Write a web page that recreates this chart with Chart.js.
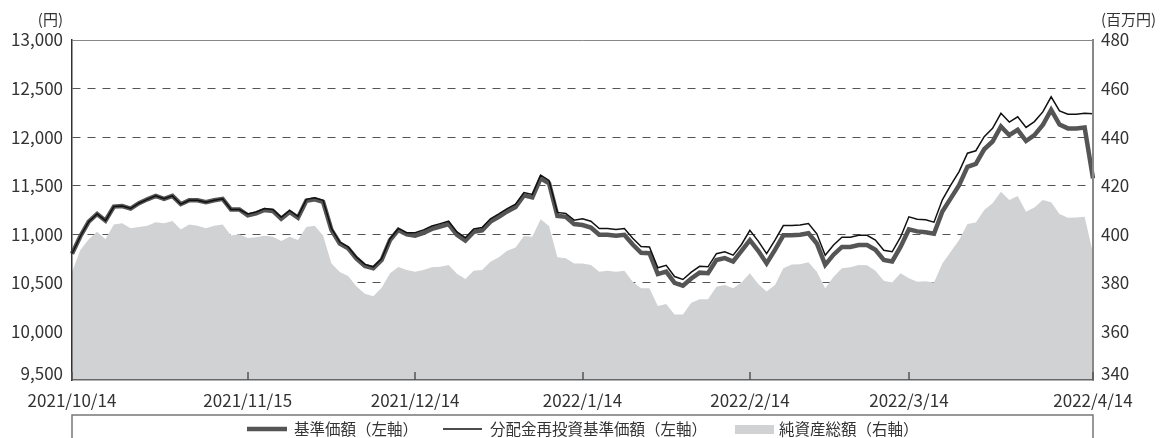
<!DOCTYPE html>
<html lang="ja">
<head>
<meta charset="UTF-8">
<title>基準価額・純資産総額の推移</title>
<script src="https://cdn.jsdelivr.net/npm/chart.js@4"></script>
<style>
  body { margin: 0; background: #fff; }
  #wrap { position: relative; width: 1164px; height: 438px; }
</style>
</head>
<body>
<div id="wrap"><canvas id="myChart"></canvas></div>
<script>
  // 東京の営業日（2021/10/14 〜 2022/4/14）
  const holidays = ['2021/11/3', '2021/11/23', '2021/12/31', '2022/1/3', '2022/1/10', '2022/2/11', '2022/2/23', '2022/3/21'];
  const tickLabels = ['2021/10/14', '2021/11/15', '2021/12/14', '2022/1/14', '2022/2/14', '2022/3/14', '2022/4/14'];

  const dates = [];
  for (let d = new Date(2021, 9, 14); d <= new Date(2022, 3, 14); d.setDate(d.getDate() + 1)) {
    const s = d.getFullYear() + '/' + (d.getMonth() + 1) + '/' + d.getDate();
    if (d.getDay() === 0 || d.getDay() === 6 || holidays.includes(s)) continue;
    dates.push(s);
  }

  // 基準価額（円）
  const nav = [
    10800, 10980, 11130, 11210, 11140, 11285, 11290, 11265, 11320, 11360,
    11395, 11365, 11395, 11310, 11350, 11350, 11330, 11350, 11365, 11255,
    11255, 11195, 11215, 11250, 11240, 11160, 11230, 11170, 11345, 11360,
    11335, 11045, 10905, 10855, 10750, 10675, 10650, 10735, 10940, 11045,
    11000, 10985, 11015, 11055, 11080, 11105, 10995, 10935, 11025, 11040,
    11130, 11180, 11235, 11280, 11400, 11380, 11575, 11525, 11190, 11180,
    11105, 11095, 11070, 10995, 10995, 10985, 10995, 10895, 10810, 10805,
    10590, 10615, 10500, 10470, 10545, 10605, 10600, 10735, 10755, 10720,
    10830, 10940, 10830, 10700, 10840, 10990, 10990, 10995, 11010, 10905,
    10685, 10790, 10870, 10870, 10890, 10890, 10840, 10735, 10720, 10870,
    11050, 11030, 11020, 11005, 11235, 11370, 11505, 11695, 11725, 11875,
    11955, 12110, 12020, 12075, 11960, 12020, 12125, 12280, 12130, 12090,
    12090, 12100, 11575
  ];

  // 分配金再投資基準価額（円）
  const navReinvested = [
    10800, 10980, 11130, 11210, 11140, 11285, 11290, 11265, 11320, 11360,
    11395, 11365, 11395, 11310, 11350, 11350, 11330, 11350, 11365, 11255,
    11255, 11210, 11230, 11265, 11255, 11175, 11245, 11185, 11360, 11375,
    11350, 11060, 10920, 10870, 10765, 10690, 10665, 10750, 10955, 11060,
    11015, 11015, 11045, 11085, 11110, 11135, 11025, 10965, 11055, 11070,
    11160, 11210, 11265, 11310, 11430, 11410, 11610, 11555, 11225, 11215,
    11145, 11160, 11135, 11060, 11060, 11050, 11060, 10960, 10875, 10870,
    10655, 10680, 10565, 10535, 10610, 10670, 10665, 10800, 10820, 10785,
    10895, 11040, 10930, 10800, 10940, 11090, 11090, 11095, 11110, 11005,
    10785, 10890, 10970, 10970, 10990, 10990, 10940, 10835, 10820, 10970,
    11180, 11155, 11150, 11125, 11355, 11505, 11645, 11835, 11860, 12005,
    12090, 12245, 12155, 12210, 12100, 12160, 12260, 12415, 12270, 12235,
    12235, 12245, 12240
  ];

  // 純資産総額（百万円）
  const netAssets = [
    384.5, 393.5, 398, 401, 398, 404, 404.5, 402.5, 403, 403.5,
    405, 404.5, 405.5, 402, 404, 403.5, 402.5, 403.5, 404, 399.5,
    400, 398.5, 398.8, 399.4, 399, 397.2, 399, 397.6, 403, 403.5,
    399.5, 388, 384.5, 382.8, 378.5, 375.5, 374.5, 378, 384, 386.5,
    385.3, 384.6, 385.3, 386.4, 386.6, 387.4, 383.7, 381.6, 385, 385.3,
    388.7, 390.5, 393.2, 394.6, 399.3, 399, 406.2, 403.4, 390.5, 390.1,
    388, 388, 387.4, 384.6, 385, 384.6, 385, 380.5, 377.8, 377.8,
    370.5, 371.3, 367, 367, 371.8, 373.2, 373.2, 378.4, 379.1, 377.8,
    380.1, 384, 379.5, 376.4, 379.1, 386, 387.6, 387.7, 388.5, 384.6,
    377.8, 382.5, 386, 386.4, 387.4, 387.2, 385, 380.9, 380.1, 384,
    381.9, 380.5, 380.7, 380.1, 388, 392.8, 397.6, 404.2, 404.9, 410,
    412.8, 417.5, 414.1, 415.8, 409.3, 411, 414.1, 413.2, 408.4, 406.8,
    406.9, 407.2, 392.2
  ];

  const FONT = "'Noto Sans CJK JP', 'Noto Sans', sans-serif";
  Chart.defaults.font.family = FONT;
  Chart.defaults.color = '#333';

  const navColor = '#555555';
  const areaColor = '#d1d2d4';

  // 単位・目盛り線・凡例を描くプラグイン
  const decor = {
    id: 'decor',
    afterDraw(chart) {
      const ctx = chart.ctx;
      const area = chart.chartArea;
      const x = chart.scales.x;
      const yL = chart.scales.y;
      const yR = chart.scales.y1;
      ctx.save();

      // x軸の内向き目盛り
      ctx.strokeStyle = '#555';
      ctx.lineWidth = 1.5;
      tickLabels.forEach(lbl => {
        const px = Math.round(x.getPixelForValue(dates.indexOf(lbl)));
        ctx.beginPath();
        ctx.moveTo(px, area.bottom);
        ctx.lineTo(px, area.bottom - 8);
        ctx.stroke();
      });

      // 最下段の目盛りラベルは少し上にずらす
      ctx.fillStyle = '#333';
      ctx.font = '17px ' + FONT;
      ctx.textBaseline = 'middle';
      ctx.textAlign = 'right';
      ctx.fillText(yL.min.toLocaleString('en-US'), area.left - 9, yL.getPixelForValue(yL.min) - 6);
      ctx.textAlign = 'left';
      ctx.fillText(String(yR.min), area.right + 8, yR.getPixelForValue(yR.min) - 6);

      // 単位
      ctx.font = '15px ' + FONT;
      ctx.textAlign = 'right';
      ctx.fillText('(円)', 63, 19);
      ctx.textAlign = 'left';
      ctx.fillText('(百万円)', 1101, 19);

      // 凡例
      ctx.strokeStyle = '#777';
      ctx.lineWidth = 1.5;
      ctx.strokeRect(area.left, 415, area.right - area.left, 40);
      const ly = 429;
      ctx.font = '15.5px ' + FONT;
      ctx.textAlign = 'left';

      ctx.strokeStyle = navColor;
      ctx.lineWidth = 4.5;
      ctx.beginPath(); ctx.moveTo(247, ly); ctx.lineTo(287, ly); ctx.stroke();
      ctx.fillText('基準価額（左軸）', 294, ly);

      ctx.strokeStyle = '#111';
      ctx.lineWidth = 1.5;
      ctx.beginPath(); ctx.moveTo(443, ly); ctx.lineTo(482, ly); ctx.stroke();
      ctx.fillText('分配金再投資基準価額（左軸）', 490, ly);

      ctx.fillStyle = areaColor;
      ctx.fillRect(735, ly - 4, 39, 9);
      ctx.fillStyle = '#333';
      ctx.fillText('純資産総額（右軸）', 779, ly);

      ctx.restore();
    }
  };

  const data = {
    labels: dates,
    datasets: [
      {
        label: '分配金再投資基準価額（左軸）',
        data: navReinvested,
        yAxisID: 'y',
        borderColor: '#111',
        borderWidth: 1.5,
        pointRadius: 0,
        tension: 0,
        order: 0
      },
      {
        label: '基準価額（左軸）',
        data: nav,
        yAxisID: 'y',
        borderColor: navColor,
        borderWidth: 4.5,
        pointRadius: 0,
        tension: 0,
        order: 1
      },
      {
        label: '純資産総額（右軸）',
        data: netAssets,
        yAxisID: 'y1',
        borderWidth: 0,
        backgroundColor: areaColor,
        fill: 'start',
        pointRadius: 0,
        tension: 0,
        order: 2
      }
    ]
  };

  const config = {
    type: 'line',
    data: data,
    options: {
      responsive: true,
      maintainAspectRatio: false,
      animation: false,
      events: [],
      layout: { padding: { top: 40, left: 0, right: 0, bottom: 0 } },
      plugins: { legend: { display: false }, tooltip: { enabled: false } },
      scales: {
        x: {
          type: 'category',
          offset: false,
          afterFit: s => { s.height = 58; },
          grid: { display: false, drawTicks: false },
          border: { display: true, color: '#666', width: 1.5, z: 1 },
          ticks: {
            autoSkip: false,
            maxRotation: 0,
            padding: 10,
            font: { size: 17 },
            color: '#333',
            callback: function (v) {
              const l = this.getLabelForValue(v);
              return tickLabels.includes(l) ? l : null;
            }
          }
        },
        y: {
          position: 'left',
          min: 9500,
          max: 13000,
          afterFit: s => { s.width = 72; },
          grid: {
            drawTicks: false,
            lineWidth: 1,
            color: c => c.tick.value === 13000 ? '#888' : (c.tick.value === 9500 ? 'rgba(0,0,0,0)' : '#555')
          },
          border: {
            color: '#333', width: 1.5, z: 1,
            dash: c => (c.tick && c.tick.value === 13000) ? [] : [8, 7]
          },
          ticks: {
            stepSize: 500,
            padding: 9,
            font: { size: 17 },
            color: '#333',
            callback: v => v === 9500 ? null : v.toLocaleString('en-US')
          }
        },
        y1: {
          position: 'right',
          min: 340,
          max: 480,
          afterFit: s => { s.width = 71; },
          grid: { drawOnChartArea: false, drawTicks: false },
          border: { color: '#888', width: 2, z: 1 },
          ticks: {
            stepSize: 20,
            padding: 8,
            font: { size: 17 },
            color: '#333',
            callback: v => v === 340 ? null : v
          }
        }
      }
    },
    plugins: [decor]
  };

  new Chart(document.getElementById('myChart'), config);
</script>
</body>
</html>
